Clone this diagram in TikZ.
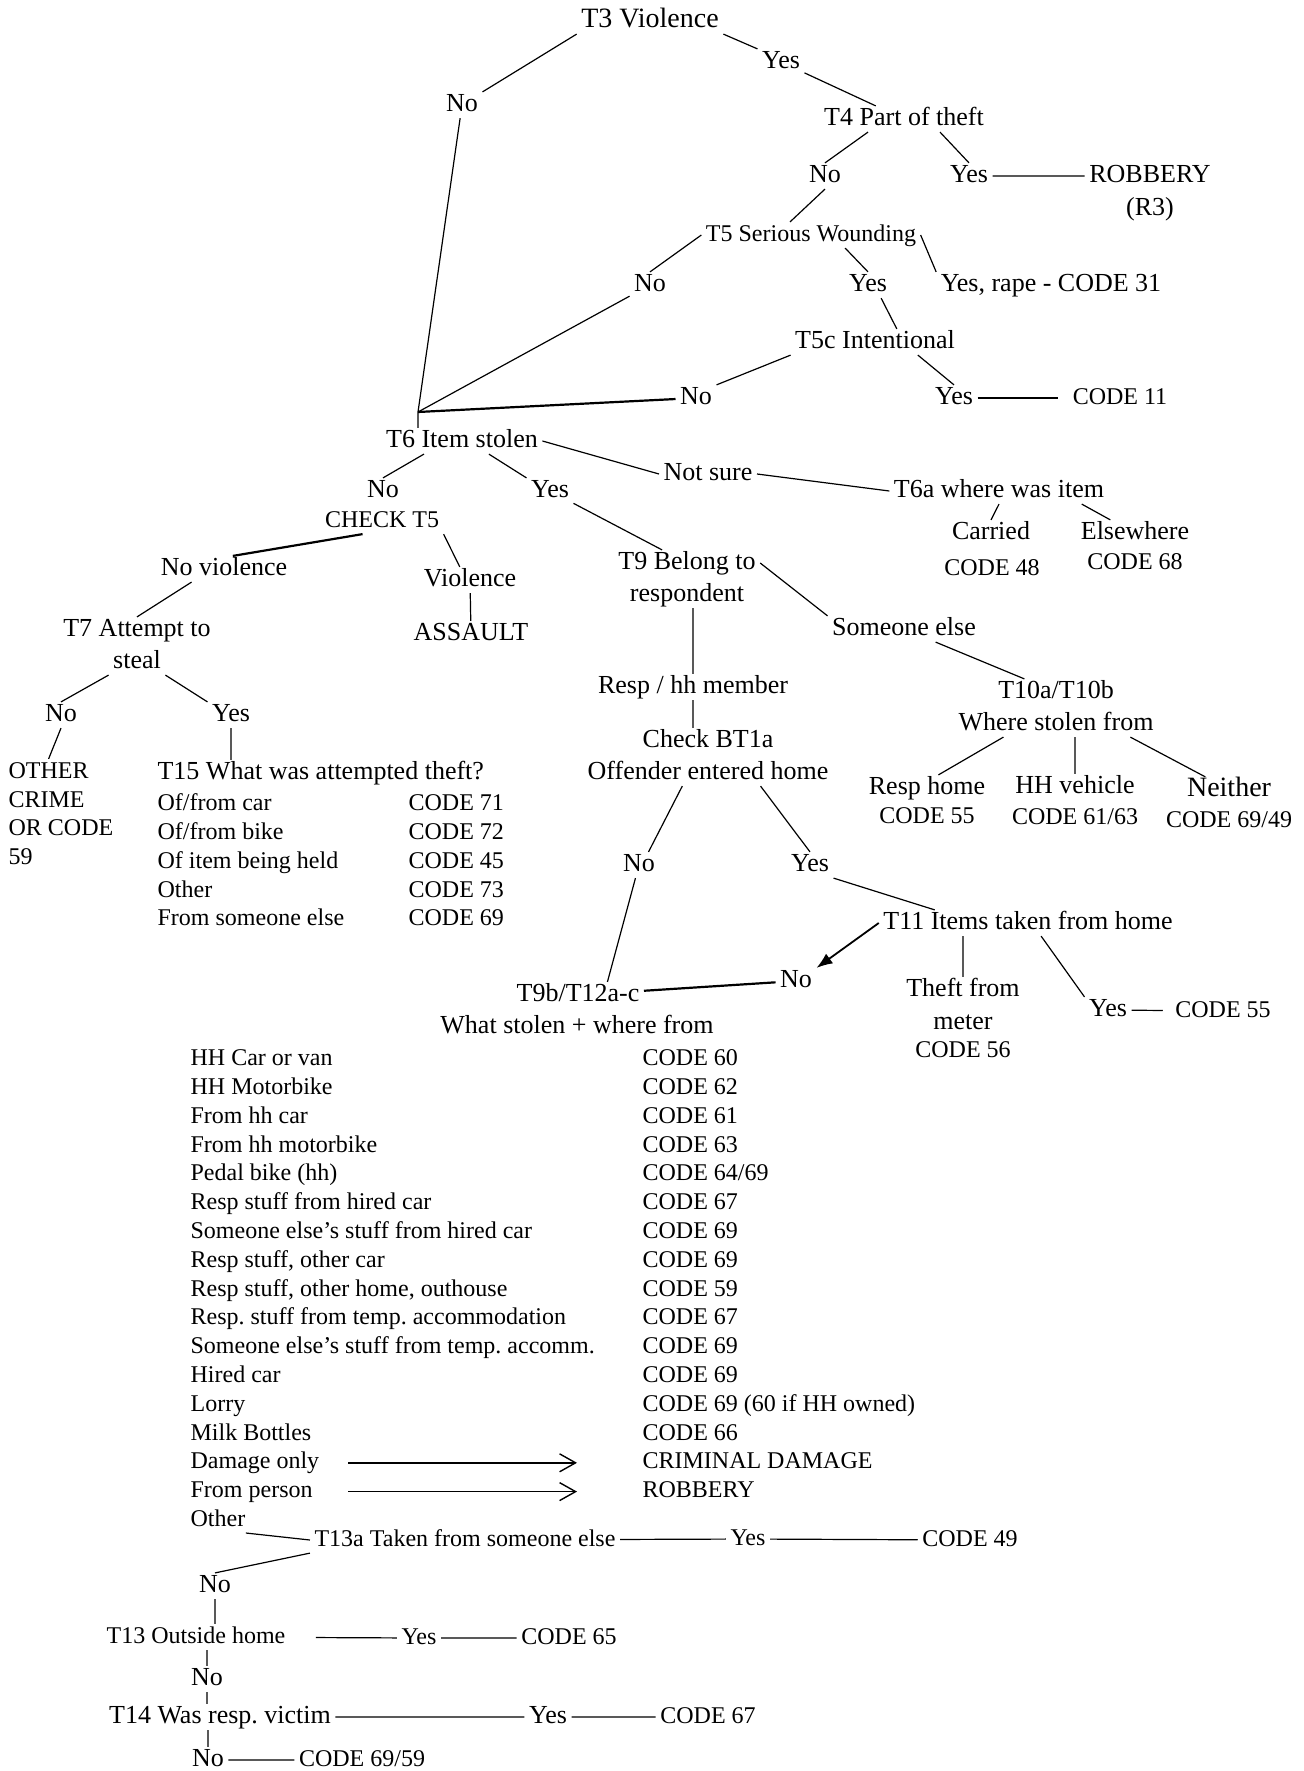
\documentclass[tikz,border=0pt]{standalone}
\usepackage{fontspec}
\setmainfont{Liberation Serif}
\usetikzlibrary{matrix,arrows.meta}
\frenchspacing

\begin{document}
\begin{tikzpicture}[x=0.5pt, y=-0.5pt, font=\fontsize{13}{15}\selectfont, line width=0.6pt,
  tx/.style={inner sep=2pt, text height=0.75em, text depth=0.1em},
  code/.style={font=\fontsize{12}{14}\selectfont},
  big/.style={font=\fontsize{14}{16}\selectfont},
  heavy/.style={line width=1.1pt},
  flow/.style={line width=0.7pt, -{Straight Barb[length=8pt,width=9pt]}},
  pick/.style={line width=0.9pt, -{Latex[length=8pt,width=6pt]}},
  listing/.style={matrix of nodes, matrix anchor=north west, inner sep=0pt,
    nodes={code, anchor=base west, inner sep=0pt, text height=9pt, text depth=3pt},
    row sep={14.4pt,between origins}}]
\useasboundingbox (0,0) rectangle (1303,1771);

\begin{scope}[every node/.append style=tx]
\node[big] (t3) at (650,21) {T3 Violence};
\node (t3-yes) at (781,62) {Yes};
\node (t3-no) at (462,105) {No};
\node (t4) at (904,119) {T4 Part of theft};
\node (t4-no) at (825,176) {No};
\node (t4-yes) at (969,176) {Yes};
\node (rob) at (1150,176) {ROBBERY};
\node (r3) at (1150,209) {(R3)};
\node[code] (t5) at (811,235) {T5 Serious Wounding};
\node (t5-no) at (650,285) {No};
\node (t5-yes) at (868,285) {Yes};
\node (rape) at (1051,285) {Yes, rape - CODE 31};
\node (t5c) at (875,342) {T5c Intentional};
\node (t5c-no) at (696,398) {No};
\node (t5c-yes) at (954,398) {Yes};
\node[code] (c11) at (1120,398) {CODE 11};
\coordinate (j6) at (418,412);
\node (t6) at (462,441) {T6 Item stolen};
\node (t6-no) at (383,491) {No};
\node (t6-yes) at (550,491) {Yes};
\node (t6-ns) at (708,474) {Not sure};
\node (t6a) at (999,491) {T6a where was item};
\node (carried) at (991,533) {Carried};
\node[code] (c48) at (992,569) {CODE 48};
\node (elsewhere) at (1135,533) {Elsewhere};
\node[code] (c68) at (1135,563) {CODE 68};
\node[code] (chk5) at (382,521) {CHECK T5};
\node (noviol) at (224,569) {No violence};
\node (viol) at (470,580) {Violence};
\node (assault) at (471,634) {ASSAULT};
\node (t7) at (137,630) {T7 Attempt to};
\node (t7b) at (137,662) {steal};
\node (t7-no) at (61,715) {No};
\node (t7-yes) at (231,715) {Yes};
\foreach \t [count=\i from 0] in {OTHER,CRIME,OR CODE,59}
  \node[code, anchor=west] (oc\i) at (4,{772+28.7*\i}) {\t};
\node[anchor=west] (t15) at (153,773) {T15 What was attempted theft?};
\node (t9) at (687,563) {T9 Belong to};
\node (t9b) at (687,595) {respondent};
\node (someone) at (904,629) {Someone else};
\node (resp) at (693,687) {Resp / hh member};
\node (bt1a) at (708,741) {Check BT1a};
\node (offender) at (708,773) {Offender entered home};
\node (t10) at (1056,692) {T10a/T10b};
\node (t10b) at (1056,724) {Where stolen from};
\node (resphome) at (927,788) {Resp home};
\node[code] (c55a) at (927,817) {CODE 55};
\node (hhveh) at (1075,787) {HH vehicle};
\node[code] (c6163) at (1075,818) {CODE 61/63};
\node[big] (neither) at (1229,790) {Neither};
\node[code] (c6949) at (1229,821) {CODE 69/49};
\node (off-no) at (639,865) {No};
\node (off-yes) at (810,865) {Yes};
\node (t11) at (1028,923) {T11 Items taken from home};
\node (t11-no) at (796,981) {No};
\node (theft) at (963,990) {Theft from};
\node (meter) at (963,1023) {meter};
\node[code] (c56) at (963,1051) {CODE 56};
\node (t11-yes) at (1108,1010) {Yes};
\node[code] (c55b) at (1223,1011) {CODE 55};
\node (t9c) at (578,995) {T9b/T12a-c};
\node (t9d) at (577,1027) {What stolen + where from};
\node[code] (t13a) at (465,1540) {T13a Taken from someone else};
\node[code] (t13a-yes) at (748,1539) {Yes};
\node[code] (c49) at (970,1540) {CODE 49};
\node (t13a-no) at (215,1586) {No};
\node[code] (t13) at (196,1637) {T13 Outside home};
\node[code] (t13-yes) at (419,1638) {Yes};
\node[code] (c65) at (569,1638) {CODE 65};
\node (t13-no) at (207,1679) {No};
\node (t14) at (220,1717) {T14 Was resp. victim};
\node (t14-yes) at (548,1717) {Yes};
\node[code] (c67) at (708,1717) {CODE 67};
\node (t14-no) at (208,1760) {No};
\node[code] (c6959) at (362,1760) {CODE 69/59};
\end{scope}

\matrix (attempt) [listing, column sep={125.5pt,between origins}] at (157,792) {
Of/from car        & CODE 71 \\
Of/from bike       & CODE 72 \\
Of item being held & CODE 45 \\
Other              & CODE 73 \\
From someone else  & CODE 69 \\
};

\matrix (stolen) [listing, column sep={226pt,between origins}] at (190,1047) {
HH Car or van                           & CODE 60 \\
HH Motorbike                            & CODE 62 \\
From hh car                             & CODE 61 \\
From hh motorbike                       & CODE 63 \\
Pedal bike (hh)                         & CODE 64/69 \\
Resp stuff from hired car               & CODE 67 \\
Someone else’s stuff from hired car     & CODE 69 \\
Resp stuff, other car                   & CODE 69 \\
Resp stuff, other home, outhouse        & CODE 59 \\
Resp. stuff from temp. accommodation    & CODE 67 \\
Someone else’s stuff from temp. accomm. & CODE 69 \\
Hired car                               & CODE 69 \\
Lorry                                   & CODE 69 (60 if HH owned) \\
Milk Bottles                            & CODE 66 \\
Damage only                             & CRIMINAL DAMAGE \\
From person                             & ROBBERY \\
Other \\
};

\draw (t3.south east) -- (t3-yes.north west)
      (t3.south west) -- (t3-no.north east)
      (t3-yes) -- (t4)
      (t3-no) -- (j6)
      (t4.200) -- (t4-no.north)
      (t4.340) -- (t4-yes.north)
      (t4-yes) -- (rob)
      (t4-no.south) -- (t5.148)
      (t5.west) -- (t5-no.north)
      (t5.339) -- (t5-yes.north)
      (t5.east) -- (rape.north west)
      (t5-yes.315) -- (t5c.31)
      (t5c.south west) -- (t5c-no.north east)
      (t5c.343) -- (t5c-yes.north)
      (t5-no) -- (j6)
      (j6) -- (j6 |- t6.north);
\draw[shorten >=5pt] (t5c-yes) -- (c11);
\draw[heavy] (t5c-no) -- (j6);

\draw (t6.199) -- (t6-no.north)
      (t6.334) -- (t6-yes.north west)
      (t6.east) -- (t6-ns.west)
      (t6-ns.east) -- (t6a.west)
      (t6a.south) -- (carried.north)
      (t6a.351) -- (elsewhere.152)
      (chk5.south east) -- (viol.128)
      (viol) -- (assault)
      (noviol.202) -- (t7.north)
      (t7b.south west) -- (t7-no.north)
      (t7b.south east) -- (t7-yes.north west)
      (t7-no.south) -- (oc0.north)
      (t7-yes.south) -- (t7-yes.south |- t15.north);
\draw[heavy] (chk5.214) -- (noviol.56);

\draw (t6-yes) -- (t9)
      (t9.east) -- (someone.north west)
      (resp.north |- t9b.south) -- (resp.north)
      (resp.south) -- (resp.south |- bt1a.north)
      (someone) -- (t10)
      (t10b.194) -- (resphome.49)
      (hhveh.north |- t10b.south) -- (hhveh.north)
      (t10b.350) -- (neither.151)
      (offender.207) -- (off-no.54)
      (offender.346) -- (off-yes.north)
      (off-yes.south east) -- (t11.172)
      (off-no) -- (t9c.24)
      (theft.north |- t11.south) -- (theft.north)
      (t11.315) -- (t11-yes.north west);
\draw[shorten >=4pt] (t11-yes) -- (c55b);
\draw[pick] (t11.west) -- (t11-no.north east);
\draw[heavy] (t11-no) -- (t9c);

\foreach \r in {15,16}
  \draw[flow] ([xshift=79pt]stolen-\r-1.west) -- ([xshift=-32.5pt]stolen-\r-2.west);

\draw (stolen-17-1.south east) -- (t13a.west)
      (t13a) -- (t13a-yes)
      (t13a-yes) -- (c49)
      (t13a.south west) -- (t13a-no.north)
      (t13a-no.south) -- (t13a-no.south |- t13.north)
      (t13-yes) -- (c65)
      (t13.south -| t13-no) -- (t13-no.north)
      (t13-no.south) -- (t13-no.south |- t14.north)
      (t14) -- (t14-yes)
      (t14-yes) -- (c67)
      (t14.south -| t14-no) -- (t14-no.north)
      (t14-no) -- (c6959);
\draw[shorten <=13pt] (t13) -- (t13-yes);
\end{tikzpicture}
\end{document}
